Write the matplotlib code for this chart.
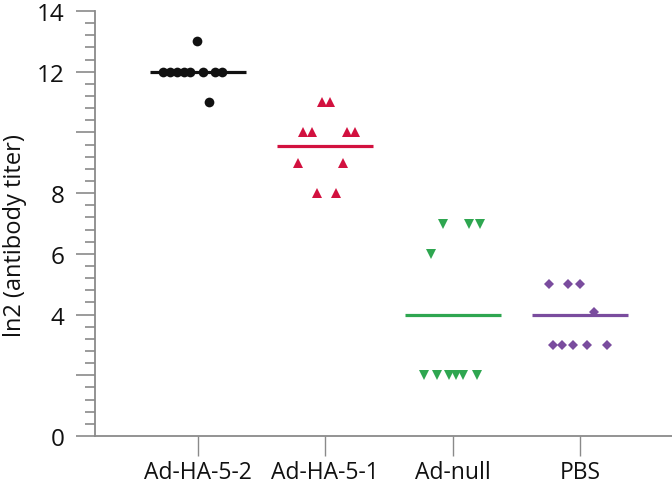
import numpy as np
import matplotlib.pyplot as plt
from matplotlib.ticker import MultipleLocator, FixedLocator, FixedFormatter

plt.rcParams["font.family"] = ["Open Sans", "DejaVu Sans"]

# =============================================================================
# Data
# =============================================================================

GROUPS = ["Ad-HA-5-2", "Ad-HA-5-1", "Ad-null", "PBS"]

TITER_HA52 = [12, 12, 12, 12, 12, 12, 12, 12, 13, 11]
TITER_HA51 = [11, 11, 10, 10, 10, 10, 9, 9, 8, 8]
TITER_NULL = [7, 7, 7, 6, 2, 2, 2, 2, 2, 2]
TITER_PBS = [5, 5, 5, 4.07, 3, 3, 3, 3, 3]

MEANS = [12.0, 9.55, 4.0, 4.0]

Y_TICK_LABELS = ["0", "", "4", "6", "8", "", "12", "14"]

# horizontal scatter of points within each group (pixels)
JITTER_HA52 = [-35, -28, -21, -14, -8, 5, 17, 24, -1, 11]
JITTER_HA51 = [-3, 5, -22, -13, 22, 30, -27, 18, -8, 11]
JITTER_NULL = [-10, 16, 27, -22, -29, -16, -4, 3, 10, 24]
JITTER_PBS = [-31, -12, 0, 14, -27, -18, -7, 7, 27]

# =============================================================================
# Style
# =============================================================================

COLORS = ["#111111", "#d2113f", "#2ea650", "#7a4c9e"]
MARKERS = ["o", "^", "v", "D"]
MSIZES = [7.0, 7.5, 7.5, 5.5]
AXIS_GRAY = "#8a8a8a"
PX_PER_UNIT = 127.3

# =============================================================================
# Plot
# =============================================================================

fig = plt.figure(figsize=(6.72, 4.85), dpi=100)
ax = fig.add_axes([95 / 672, 48 / 485, 577 / 672, 425 / 485])

values = [TITER_HA52, TITER_HA51, TITER_NULL, TITER_PBS]
jitters = [JITTER_HA52, JITTER_HA51, JITTER_NULL, JITTER_PBS]
positions = np.arange(len(GROUPS))

for i, (vals, jit) in enumerate(zip(values, jitters)):
    xs = positions[i] + np.array(jit) / PX_PER_UNIT
    ax.plot(xs, vals, linestyle="none", marker=MARKERS[i], ms=MSIZES[i],
            color=COLORS[i], markeredgewidth=0, zorder=3)
    ax.plot([positions[i] - 0.377, positions[i] + 0.377], [MEANS[i], MEANS[i]],
            color=COLORS[i], linewidth=2.3, solid_capstyle="butt", zorder=2)

ax.set_xlim(-103 / PX_PER_UNIT, 474 / PX_PER_UNIT)
ax.set_ylim(0, 14)

ax.set_xticks(positions)
ax.set_xticklabels(GROUPS, fontsize=16.5, color="#111111")
ax.yaxis.set_major_locator(FixedLocator(np.arange(0, 15, 2)))
ax.yaxis.set_major_formatter(FixedFormatter(Y_TICK_LABELS))
ax.yaxis.set_minor_locator(MultipleLocator(0.4))

ax.tick_params(axis="y", which="major", length=13.7, width=1.2, color=AXIS_GRAY,
               labelsize=17.5, labelcolor="#111111", pad=8)
ax.tick_params(axis="y", which="minor", length=7.2, width=1.2, color=AXIS_GRAY)
ax.tick_params(axis="x", which="major", length=14.4, width=1.0, color=AXIS_GRAY,
               pad=3)

for side in ("top", "right"):
    ax.spines[side].set_visible(False)
for side in ("left", "bottom"):
    ax.spines[side].set_color(AXIS_GRAY)
    ax.spines[side].set_linewidth(1.3)

ax.set_ylabel("ln2 (antibody titer)", fontsize=17, color="#111111", va="center")
ax.yaxis.set_label_coords(-80 / 577, 0.475)

fig.savefig("out.png", dpi=100)
